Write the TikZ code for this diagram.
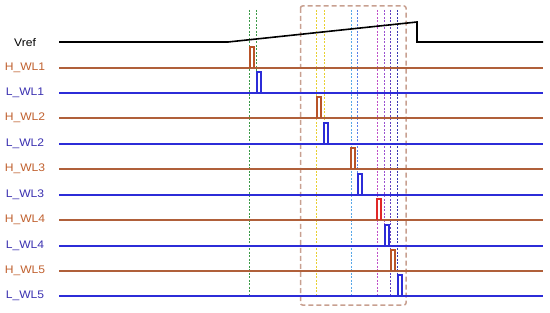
\documentclass[tikz,border=0pt]{standalone}
\usepackage{fontspec}
\setmainfont{Liberation Sans}[FakeStretch=1.1]
\definecolor{hcol}{HTML}{B0603A}
\definecolor{hpul}{HTML}{B85428}
\definecolor{hred}{HTML}{E02828}
\definecolor{lcol}{HTML}{2C2CD8}
\definecolor{hlabc}{HTML}{C0602E}
\definecolor{llabc}{HTML}{3A30B0}
\definecolor{boxc}{HTML}{C8A090}
\definecolor{vgreen}{HTML}{3C9A48}
\definecolor{vyellow}{HTML}{E8D030}
\definecolor{vlblue}{HTML}{58A8E8}
\definecolor{vblue}{HTML}{5A80E8}
\definecolor{vmag}{HTML}{C050C8}
\definecolor{vviol}{HTML}{9A50D0}
\definecolor{vpurp}{HTML}{6040C0}
\definecolor{vdblue}{HTML}{3838B0}
\begin{document}
\begin{tikzpicture}[x=1pt,y=-1pt,
  lab/.style={font=\fontsize{11}{13}\selectfont, anchor=center, inner sep=0pt},
  hlab/.style={lab, text=hlabc},
  llab/.style={lab, text=llabc},
  hline/.style={draw=hcol, line width=1.6pt},
  lline/.style={draw=lcol, line width=1.6pt},
  hpulse/.style={draw=hpul, line width=1.6pt},
  lpulse/.style={draw=lcol, line width=1.6pt},
  vdash/.style={line width=1pt, dash pattern=on 2pt off 1.5pt},
  boxdash/.style={draw=boxc, line width=1.5pt, dash pattern=on 5pt off 3pt, rounded corners=2pt}]
\useasboundingbox (0,0) rectangle (550,313);
% vertical marker lines
\def\ytop{10}
\def\ybot{296}
\draw[vdash, vgreen] (249.5,\ytop) -- (249.5,\ybot);
\draw[vdash, vgreen] (256.5,\ytop) -- (256.5,93);
\draw[vdash, vyellow] (316.5,\ytop) -- (316.5,\ybot);
\draw[vdash, vyellow] (324.5,\ytop) -- (324.5,144);
\draw[vdash, vlblue] (351.5,\ytop) -- (351.5,\ybot);
\draw[vdash, vblue] (357.5,\ytop) -- (357.5,195);
\draw[vdash, vmag] (377.5,\ytop) -- (377.5,\ybot);
\draw[vdash, vviol] (384.5,\ytop) -- (384.5,246);
\draw[vdash, vpurp] (390.5,\ytop) -- (390.5,\ybot);
\draw[vdash, vdblue] (397.5,\ytop) -- (397.5,\ybot);
% dashed box
\draw[boxdash] (300.5,6) rectangle (406,305);
% labels
\node[lab] (vref) at (25,42.5) {Vref};
\node[hlab] (h1) at (25,68) {H\_WL1};
\node[llab] (l1) at (25,93) {L\_WL1};
\node[hlab] (h2) at (25,118) {H\_WL2};
\node[llab] (l2) at (25,144) {L\_WL2};
\node[hlab] (h3) at (25,169) {H\_WL3};
\node[llab] (l3) at (25,195) {L\_WL3};
\node[hlab] (h4) at (25,220) {H\_WL4};
\node[llab] (l4) at (25,246) {L\_WL4};
\node[hlab] (h5) at (25,271) {H\_WL5};
\node[llab] (l5) at (25,296) {L\_WL5};
% Vref
\draw[black, line width=1.6pt] (59,42) -- (228,42) -- (417,22) -- (417,42) -- (543,42);
% signal lines
\foreach \y in {68,118,169,220,271} {\draw[hline] (59,\y) -- (543,\y);}
\foreach \y in {93,144,195,246,296} {\draw[lline] (59,\y) -- (543,\y);}
% pulses
\foreach \x/\y in {250/68, 317/118, 351/169, 391/271}
  {\draw[hpulse] (\x,\y) -- (\x,\y-21) -- (\x+4,\y-21) -- (\x+4,\y);}
\draw[hpulse, draw=hred] (377,220) -- (377,199) -- (381,199) -- (381,220);
\foreach \x/\y in {257/93, 324/144, 358/195, 385/246, 398/296}
  {\draw[lpulse] (\x,\y) -- (\x,\y-21) -- (\x+4,\y-21) -- (\x+4,\y);}
\end{tikzpicture}
\end{document}
